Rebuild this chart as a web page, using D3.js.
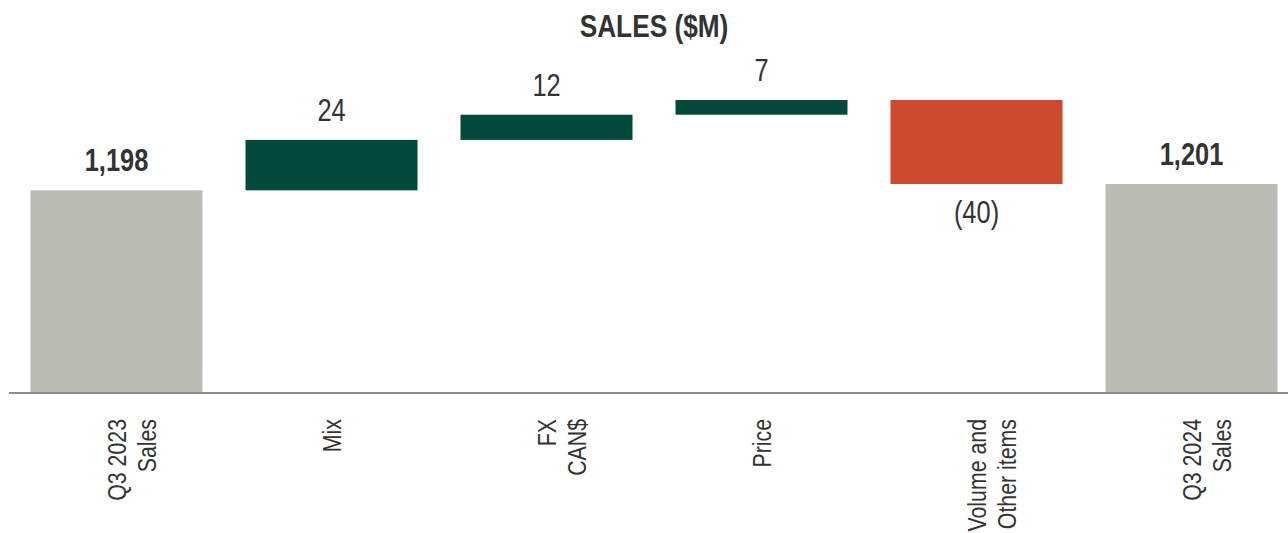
<!DOCTYPE html>
<html>
<head>
<meta charset="utf-8">
<script src="https://cdn.jsdelivr.net/npm/d3@7"></script>
<style>
  body { margin: 0; background: #fff; }
  text { font-family: "Liberation Sans", Arial, sans-serif; }
</style>
</head>
<body>
<svg id="chart" width="1288" height="533"></svg>
<script>
"use strict";

// waterfall steps
var categories = ["Q3 2023 Sales", "Mix", "FX CAN$", "Price", "Volume and Other items", "Q3 2024 Sales"];
var tickLines = [["Q3 2023", "Sales"], ["Mix"], ["FX", "CAN$"], ["Price"], ["Volume and", "Other items"], ["Q3 2024", "Sales"]];
var values = [1198, 24, 12, 7, -40, 1201];
var kinds = ["total", "delta", "delta", "delta", "delta", "total"];
var valueLabels = ["1,198", "24", "12", "7", "(40)", "1,201"];

var colors = {
  total: "#babbb3",
  up: "#034a3c",
  down: "#cc4a2d"
};

// no Arial Narrow in the sandbox, squeeze the text instead
var narrow = 0.82;

var svg = d3.select("#chart");

var x = d3.scaleBand()
  .domain(categories)
  .range([9, 1299])
  .paddingInner(0.2)
  .paddingOuter(0.1);

var y = d3.scaleLinear()
  .domain([1102, 1241])
  .range([392, 100]);

// build start / end of each bar
var running = 0;
var bars = categories.map(function (c, i) {
  var start, end;
  if (kinds[i] === "total") {
    start = y.domain()[0];
    end = values[i];
    running = values[i];
  } else {
    start = running;
    end = running + values[i];
    running = end;
  }
  return { cat: c, start: start, end: end, kind: kinds[i], v: values[i], label: valueLabels[i], lines: tickLines[i] };
});

svg.append("g")
  .attr("transform", "translate(654,37) scale(" + narrow + ",1)")
  .append("text")
  .text("SALES ($M)")
  .attr("text-anchor", "middle")
  .style("font-size", "32px")
  .style("font-weight", 700)
  .style("fill", "#333");

svg.selectAll("rect.bar")
  .data(bars)
  .enter().append("rect")
  .attr("class", "bar")
  .attr("x", function (d) { return x(d.cat); })
  .attr("width", x.bandwidth())
  .attr("y", function (d) { return y(Math.max(d.start, d.end)); })
  .attr("height", function (d) { return Math.abs(y(d.start) - y(d.end)); })
  .style("fill", function (d) {
    if (d.kind === "total") return colors.total;
    return d.v >= 0 ? colors.up : colors.down;
  });

svg.selectAll("g.val")
  .data(bars)
  .enter().append("g")
  .attr("class", "val")
  .attr("transform", function (d) {
    var cx = x(d.cat) + x.bandwidth() / 2;
    var cy = d.v < 0 ? y(Math.min(d.start, d.end)) + 39 : y(Math.max(d.start, d.end)) - 19;
    return "translate(" + cx + "," + cy + ") scale(" + narrow + ",1)";
  })
  .append("text")
  .text(function (d) { return d.label; })
  .attr("text-anchor", "middle")
  .style("font-size", "31px")
  .style("font-weight", function (d) { return d.kind === "total" ? 700 : 400; })
  .style("fill", "#333");

// baseline
svg.append("line")
  .attr("x1", 9)
  .attr("x2", 1288)
  .attr("y1", 393)
  .attr("y2", 393)
  .style("stroke", "#8c8c8c")
  .style("stroke-width", 2);

// rotated category labels
var ticks = svg.selectAll("g.tick")
  .data(bars)
  .enter().append("g")
  .attr("class", "tick")
  .attr("transform", function (d) {
    return "translate(" + (x(d.cat) + x.bandwidth() / 2) + ",419) rotate(-90) scale(" + narrow + ",1)";
  });

ticks.each(function (d) {
  var t = d3.select(this).append("text")
    .attr("text-anchor", "end")
    .style("font-size", "26px")
    .style("fill", "#333");
  d.lines.forEach(function (line, i) {
    t.append("tspan")
      .text(line)
      .attr("x", 0)
      .attr("y", 9 + i * 31);
  });
});
</script>
</body>
</html>
